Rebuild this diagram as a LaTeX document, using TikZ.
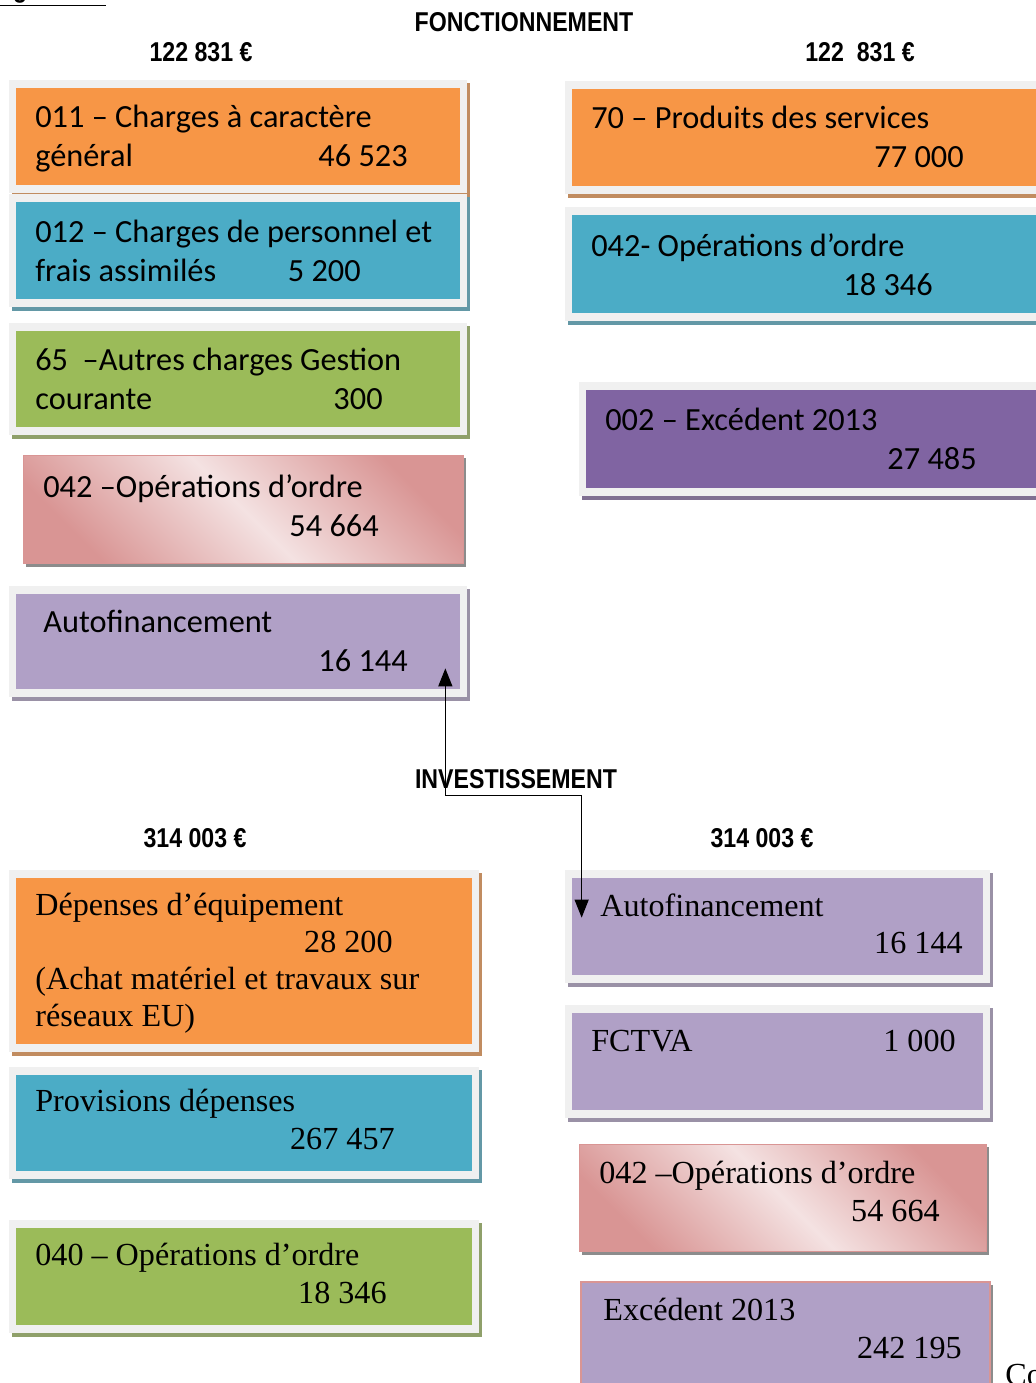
\documentclass[tikz,border=0pt]{standalone}
\usepackage{fontspec}
\setmainfont{Liberation Serif}
\newfontfamily\calibri{Carlito}
\newfontfamily\titrefont[FakeStretch=0.85]{Liberation Sans}
\usetikzlibrary{positioning,fit,calc,arrows.meta}
\definecolor{orangeB}{HTML}{F79646}
\definecolor{bleuB}{HTML}{4BACC6}
\definecolor{vertB}{HTML}{9BBB59}
\definecolor{violetB}{HTML}{8064A2}
\definecolor{lilasB}{HTML}{B0A0C6}
\definecolor{roseF}{HTML}{D99594}
\definecolor{roseC}{HTML}{F4E2E2}
\definecolor{cadreB}{HTML}{F0F0F0}
\tikzset{
  titre/.style={font=\titrefont\bfseries\fontsize{15.5}{18}\selectfont, inner sep=0},
  txtC/.style={font=\calibri\fontsize{18.4}{21}\selectfont, inner sep=0},
  txtT/.style={font=\fontsize{18.3}{21}\selectfont, inner sep=0},
  bloc/.style={inner sep=0, draw=none},
  fleche/.style={line width=0.7pt, {Triangle[length=0.36cm,width=0.28cm]}-{Triangle[length=0.36cm,width=0.28cm]}}
}
% boite avec cadre gris et ombre : nom, x1, y1, x2, y2, couleur
\newcommand{\boite}[6]{%
  \fill[#6!55!gray] (#2-4,#3-5) rectangle (#4+10,#5+12);
  \fill[cadreB] (#2-7,#3-8) rectangle (#4+7,#5+8);
  \node[bloc, fill=#6, fit={(#2,#3) (#4,#5)}] (#1) {};
}
% boite rose en degrade : nom, x1, y1, x2, y2
\newcommand{\boiterose}[5]{%
  \fill[black!45] (#2+3,#3+3) rectangle (#4+3,#5+4);
  \node[bloc, top color=roseF, bottom color=roseF, middle color=roseC,
    shading angle=-45, draw=roseF, line width=0.5pt, fit={(#2,#3) (#4,#5)}] (#1) {};
}
\begin{document}
\begin{tikzpicture}[x=0.02cm, y=-0.02cm]
  \useasboundingbox (0,0) rectangle (1035,1383);

  % titres
  \node[titre, anchor=base east] (budget) at (106,-3) {\underline{Budget 2014}};
  \node[titre, anchor=base] (fonct) at (524,31) {FONCTIONNEMENT};
  \node[titre, anchor=base] (totFg) at (201,61) {122 831 €};
  \node[titre, anchor=base] (totFd) at (860,61) {122\ \ 831 €};
  \node[titre, anchor=base] (invest) at (516,788) {INVESTISSEMENT};
  \node[titre, anchor=base] (totIg) at (195,847) {314 003 €};
  \node[titre, anchor=base] (totId) at (762,847) {314 003 €};

  % fonctionnement : depenses
  \boite{chg}{16}{88}{460}{185}{orangeB}
  \boite{pers}{16}{202}{460}{299}{bleuB}
  \boite{gest}{16}{331}{460}{427}{vertB}
  \boiterose{ordF}{23}{455}{463}{563}
  \boite{autoF}{16}{594}{460}{689}{lilasB}

  \node[txtC, anchor=base west] (chgA) at (35,127) {011 – Charges à caractère};
  \node[txtC, anchor=base west] (chgB) at (35,166) {général};
  \node[txtC, anchor=base east] (chgV) at (408,166) {46 523};
  \node[txtC, anchor=base west] (persA) at (35,242) {012 – Charges de personnel et};
  \node[txtC, anchor=base west] (persB) at (35,281) {frais assimilés};
  \node[txtC, anchor=base east] (persV) at (361,281) {5 200};
  \node[txtC, anchor=base west] (gestA) at (35,370) {65\ \ –Autres charges Gestion};
  \node[txtC, anchor=base west] (gestB) at (35,409) {courante};
  \node[txtC, anchor=base east] (gestV) at (383,409) {300};
  \node[txtC, anchor=base west] (ordFA) at (43,497) {042 –Opérations d’ordre};
  \node[txtC, anchor=base east] (ordFV) at (379,536) {54 664};
  \node[txtC, anchor=base west] (autoFA) at (43,632) {Autofinancement};
  \node[txtC, anchor=base east] (autoFV) at (408,671) {16 144};

  % fonctionnement : recettes
  \boite{prod}{572}{89}{1050}{186}{orangeB}
  \boite{ordR}{572}{215}{1050}{313}{bleuB}
  \boite{excF}{586}{390}{1050}{488}{violetB}

  \node[txtC, anchor=base west] (prodA) at (591,128) {70 – Produits des services};
  \node[txtC, anchor=base east] (prodV) at (964,167) {77 000};
  \node[txtC, anchor=base west] (ordRA) at (591,256) {042- Opérations d’ordre};
  \node[txtC, anchor=base east] (ordRV) at (933,295) {18 346};
  \node[txtC, anchor=base west] (excFA) at (605,430) {002 – Excédent 2013};
  \node[txtC, anchor=base east] (excFV) at (977,469) {27 485};

  % investissement : depenses
  \boite{equip}{16}{878}{472}{1044}{orangeB}
  \boite{prov}{16}{1075}{472}{1171}{bleuB}
  \boite{ordI}{16}{1228}{472}{1325}{vertB}

  \node[txtT, anchor=base west] (equipA) at (35,915) {Dépenses d’équipement};
  \node[txtT, anchor=base east] (equipV) at (393,952) {28 200};
  \node[txtT, anchor=base west] (equipB) at (35,989) {(Achat matériel et travaux sur};
  \node[txtT, anchor=base west] (equipC) at (35,1026) {réseaux EU)};
  \node[txtT, anchor=base west] (provA) at (35,1111) {Provisions dépenses};
  \node[txtT, anchor=base east] (provV) at (395,1149) {267 457};
  \node[txtT, anchor=base west] (ordIA) at (35,1265) {040 – Opérations d’ordre};
  \node[txtT, anchor=base east] (ordIV) at (387,1303) {18 346};

  % investissement : recettes
  \boite{autoI}{572}{878}{983}{975}{lilasB}
  \boite{fctva}{572}{1013}{983}{1110}{lilasB}
  \boiterose{ordJ}{579}{1144}{986}{1251}
  \fill[black!45] (584,1285) rectangle (993,1395);
  \node[bloc, fill=lilasB, draw=roseF, line width=1pt, fit={(581,1282) (990,1395)}] (excI) {};

  \node[txtT, anchor=base west] (autoIA) at (600,916) {Autofinancement};
  \node[txtT, anchor=base east] (autoIV) at (963,953) {16 144};
  \node[txtT, anchor=base west] (fctvaA) at (591,1051) {FCTVA};
  \node[txtT, anchor=base east] (fctvaV) at (956,1051) {1 000};
  \node[txtT, anchor=base west] (ordJA) at (599,1183) {042 –Opérations d’ordre};
  \node[txtT, anchor=base east] (ordJV) at (940,1221) {54 664};
  \node[txtT, anchor=base west] (excIA) at (603,1320) {Excédent 2013};
  \node[txtT, anchor=base east] (excIV) at (962,1358) {242 195};
  \node[txtT, anchor=base west] (suite) at (1005,1385) {Co};

  % autofinancement : lien entre les deux sections
  \coordinate (pA) at ($(autoF.south east)+(-15,-21)$);
  \coordinate (pB) at ($(autoI.north west)+(10,40)$);
  \draw[fleche] (pA) -- ++(0,127) -| (pB);
\end{tikzpicture}
\end{document}
